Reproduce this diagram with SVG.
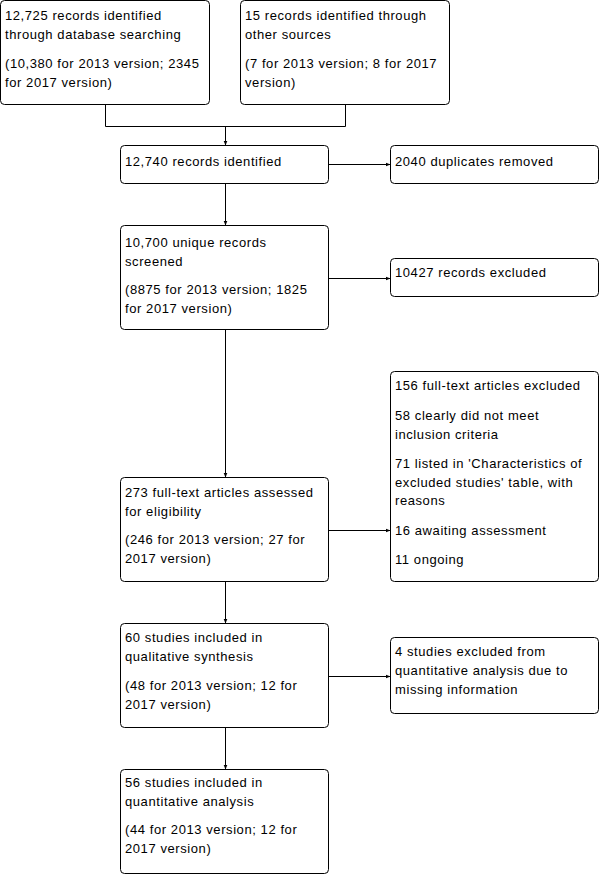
<svg xmlns="http://www.w3.org/2000/svg" width="604" height="875" viewBox="0 0 604 875">
<style>
.b{fill:#fff;stroke:#000;stroke-width:1}
.t{font-family:"Liberation Sans",Arial,sans-serif;font-size:13px;letter-spacing:0.58px;fill:#000}
.c{fill:none;stroke:#000;stroke-width:1}
</style>
<defs>
<marker id="ah" markerUnits="userSpaceOnUse" markerWidth="6" markerHeight="6" refX="5" refY="3" orient="auto">
<path d="M0,1 L5,3 L0,5 z" fill="#000"/>
</marker>
</defs>
<rect width="604" height="875" fill="#fff"/>
<g id="connectors">
<path class="c" d="M105.5 104.5 V126.5 H345.5 V104.5"/>
<path class="c" d="M225.5 126.5 V145.5" marker-end="url(#ah)"/>
<path class="c" d="M328.5 164.5 H390.5" marker-end="url(#ah)"/>
<path class="c" d="M225.5 183.5 V225.5" marker-end="url(#ah)"/>
<path class="c" d="M328.5 278.5 H390.5" marker-end="url(#ah)"/>
<path class="c" d="M225.5 329.5 V477.5" marker-end="url(#ah)"/>
<path class="c" d="M328.5 530.5 H390.5" marker-end="url(#ah)"/>
<path class="c" d="M225.5 581.5 V623.5" marker-end="url(#ah)"/>
<path class="c" d="M328.5 676.5 H390.5" marker-end="url(#ah)"/>
<path class="c" d="M225.5 727.5 V769.5" marker-end="url(#ah)"/>
</g>
<g id="db">
<rect class="b" x="0.5" y="0.5" width="209" height="104" rx="4"/>
<text class="t" x="5" y="20">12,725 records identified</text>
<text class="t" x="5" y="39">through database searching</text>
<text class="t" x="5" y="68">(10,380 for 2013 version; 2345</text>
<text class="t" x="5" y="87">for 2017 version)</text>
</g>
<g id="other">
<rect class="b" x="240.5" y="0.5" width="209" height="104" rx="4"/>
<text class="t" x="245" y="20">15 records identified through</text>
<text class="t" x="245" y="39">other sources</text>
<text class="t" x="245" y="68">(7 for 2013 version; 8 for 2017</text>
<text class="t" x="245" y="87">version)</text>
</g>
<g id="identified">
<rect class="b" x="120.5" y="145.5" width="208" height="38" rx="4"/>
<text class="t" x="125" y="166">12,740 records identified</text>
</g>
<g id="duplicates">
<rect class="b" x="390.5" y="145.5" width="208" height="38" rx="4"/>
<text class="t" x="395" y="166">2040 duplicates removed</text>
</g>
<g id="screened">
<rect class="b" x="120.5" y="225.5" width="208" height="104" rx="4"/>
<text class="t" x="125" y="247">10,700 unique records</text>
<text class="t" x="125" y="266">screened</text>
<text class="t" x="125" y="294">(8875 for 2013 version; 1825</text>
<text class="t" x="125" y="313">for 2017 version)</text>
</g>
<g id="excluded-records">
<rect class="b" x="390.5" y="258.5" width="208" height="38" rx="4"/>
<text class="t" x="395" y="277">10427 records excluded</text>
</g>
<g id="fulltext">
<rect class="b" x="120.5" y="477.5" width="208" height="104" rx="4"/>
<text class="t" x="125" y="497">273 full-text articles assessed</text>
<text class="t" x="125" y="516">for eligibility</text>
<text class="t" x="125" y="544">(246 for 2013 version; 27 for</text>
<text class="t" x="125" y="563">2017 version)</text>
</g>
<g id="fulltext-excluded">
<rect class="b" x="390.5" y="371.5" width="208" height="210" rx="4"/>
<text class="t" x="395" y="390">156 full-text articles excluded</text>
<text class="t" x="395" y="420">58 clearly did not meet</text>
<text class="t" x="395" y="438.5">inclusion criteria</text>
<text class="t" x="395" y="468">71 listed in 'Characteristics of</text>
<text class="t" x="395" y="487">excluded studies' table, with</text>
<text class="t" x="395" y="505">reasons</text>
<text class="t" x="395" y="535">16 awaiting assessment</text>
<text class="t" x="395" y="563.5">11 ongoing</text>
</g>
<g id="qualitative">
<rect class="b" x="120.5" y="623.5" width="208" height="104" rx="4"/>
<text class="t" x="125" y="642">60 studies included in</text>
<text class="t" x="125" y="661">qualitative synthesis</text>
<text class="t" x="125" y="690">(48 for 2013 version; 12 for</text>
<text class="t" x="125" y="709">2017 version)</text>
</g>
<g id="quant-excluded">
<rect class="b" x="390.5" y="637.5" width="208" height="76" rx="4"/>
<text class="t" x="395" y="656">4 studies excluded from</text>
<text class="t" x="395" y="675">quantitative analysis due to</text>
<text class="t" x="395" y="693.5">missing information</text>
</g>
<g id="quantitative">
<rect class="b" x="120.5" y="769.5" width="208" height="104" rx="4"/>
<text class="t" x="125" y="787">56 studies included in</text>
<text class="t" x="125" y="806">quantitative analysis</text>
<text class="t" x="125" y="834">(44 for 2013 version; 12 for</text>
<text class="t" x="125" y="853">2017 version)</text>
</g>
</svg>
